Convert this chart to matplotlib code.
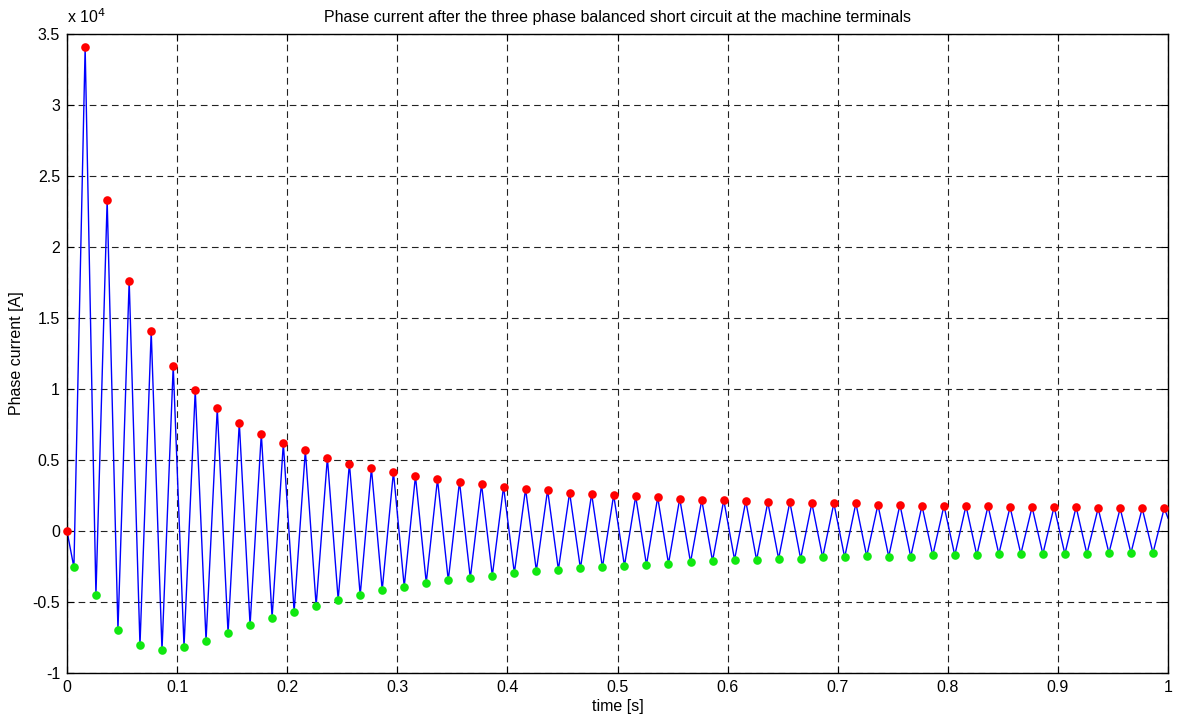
import numpy as np
import matplotlib
matplotlib.use('Agg')
import matplotlib.pyplot as plt
from matplotlib.ticker import FuncFormatter

plt.rcParams['font.family'] = ['Liberation Sans', 'DejaVu Sans']

# peak values (red), one per period starting at t ~ 0.0165 s
peak_vals = [34080, 23310, 17630, 14060, 11620, 9910, 8640, 7630, 6850, 6180,
             5680, 5160, 4750, 4410, 4155, 3870, 3640, 3470, 3290, 3120,
             2960, 2890, 2700, 2610, 2535, 2440, 2370, 2280, 2180, 2180,
             2110, 2020, 2040, 1950, 1950, 1950, 1850, 1850, 1780, 1780,
             1780, 1760, 1690, 1690, 1710, 1690, 1600, 1600, 1600, 1600]

# trough values (green), one per period starting at t ~ 0.0063 s
trough_vals = [-2560, -4510, -6970, -8050, -8400, -8150, -7720, -7210, -6620, -6100,
               -5680, -5260, -4840, -4510, -4150, -3920, -3640, -3470, -3310, -3150,
               -2960, -2790, -2720, -2630, -2560, -2460, -2390, -2300, -2200, -2110,
               -2020, -2040, -1950, -1950, -1850, -1850, -1780, -1800, -1810, -1710,
               -1710, -1710, -1620, -1620, -1620, -1620, -1620, -1550, -1550, -1550]

period = 0.02
peak_t = 0.0165 + period * np.arange(len(peak_vals))
trough_t = 0.0063 + period * np.arange(len(trough_vals))

# start and end of the current trace
start_point = (0.0, 0.0)
end_point = (1.0, 900)

# red markers include the starting point at t=0
red_t = np.concatenate([[start_point[0]], peak_t])
red_v = np.concatenate([[start_point[1]], peak_vals])

# blue trace goes through all the extrema in time order
line_t = np.concatenate([[start_point[0]], peak_t, trough_t, [end_point[0]]])
line_v = np.concatenate([[start_point[1]], peak_vals, trough_vals, [end_point[1]]])
order = np.argsort(line_t)
line_t = line_t[order]
line_v = line_v[order]

fs = 11.5

fig = plt.figure(figsize=(11.77, 7.18), dpi=100)
ax = fig.add_axes([0.0569, 0.0627, 0.9355, 0.8899])

ax.plot(line_t, line_v, color='#0000ff', lw=1.0, zorder=2)
ax.plot(red_t, red_v, 'o', color='#ff0000', ms=6.2, mec='none', zorder=3, clip_on=False)
ax.plot(trough_t, trough_vals, 'o', color='#11e811', ms=6.2, mec='none', zorder=3)

ax.set_xlim(0, 1)
ax.set_ylim(-1e4, 3.5e4)
ax.set_xticks(np.arange(0, 1.01, 0.1))
ax.set_yticks(np.arange(-1e4, 3.51e4, 5e3))
ax.xaxis.set_major_formatter(FuncFormatter(lambda v, p: '%g' % round(v, 2)))
ax.yaxis.set_major_formatter(FuncFormatter(lambda v, p: '%g' % (v / 1e4)))

ax.grid(True, color='#222222', linestyle=(0, (6, 4)), lw=0.8)
ax.set_axisbelow(True)
ax.tick_params(direction='in', top=True, right=True, length=5, labelsize=fs, pad=5)
for s in ax.spines.values():
    s.set_linewidth(1.0)

ax.set_xlabel('time [s]', fontsize=fs, labelpad=3)
ax.set_ylabel('Phase current [A]', fontsize=fs, labelpad=6)
ax.set_title('Phase current after the three phase balanced short circuit at the machine terminals',
             fontsize=fs, pad=9)
ax.text(0.0, 1.012, r'x 10$^{4}$', transform=ax.transAxes, fontsize=fs,
        ha='left', va='bottom')

fig.savefig('out.png', dpi=100)
